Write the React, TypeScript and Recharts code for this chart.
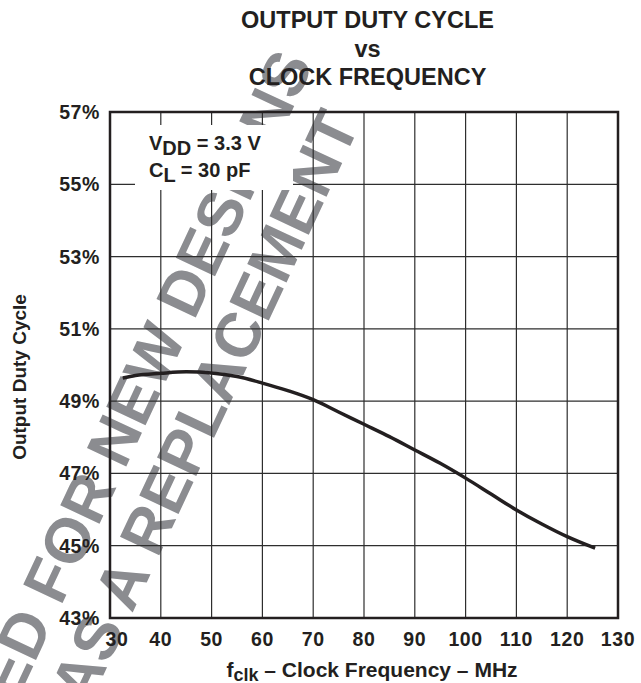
import { LineChart, Line, XAxis, YAxis, CartesianGrid, ReferenceArea } from 'recharts';

// curve (VDD = 3.3 V, CL = 30 pF)
const freqMHz = [32.5, 35, 40, 45, 50, 55, 60, 65, 70, 75, 80, 85, 90, 95, 100, 105, 110, 115, 120, 125.5];
const dutyPct = [49.64, 49.71, 49.77, 49.81, 49.78, 49.68, 49.5, 49.29, 49.04, 48.7, 48.36, 48.02, 47.65, 47.28, 46.87, 46.43, 45.99, 45.6, 45.25, 44.93];

const xTicks = [30, 40, 50, 60, 70, 80, 90, 100, 110, 120, 130];
const yTicks = [43, 45, 47, 49, 51, 53, 55, 57];

const titleLines = ['OUTPUT DUTY CYCLE', 'vs', 'CLOCK FREQUENCY'];
const watermarkLines = ['NOT RECOMMENDED FOR NEW DESIGNS', 'USE CDCVF2510A AS A REPLACEMENT'];

const data = freqMHz.map((f, i) => ({ f, duty: dutyPct[i] }));

const FONT = '"Liberation Sans", Arial, Helvetica, sans-serif';
const INK = '#231f20';
const GRAY = '#8b8c90';

const XTick = ({ x, y, payload }: any) => (
  <text
    x={x + (payload.value === 30 ? 7 : 0)}
    y={y}
    dy="0.71em"
    textAnchor="middle"
    fontFamily={FONT}
    fontWeight="bold"
    fontSize={19.5}
    letterSpacing={0.6}
    fill={INK}
  >
    {payload.value}
  </text>
);

const YTick = ({ x, y, payload }: any) => (
  <text
    x={x}
    y={y}
    dy="0.36em"
    textAnchor="end"
    fontFamily={FONT}
    fontWeight="bold"
    fontSize={19.5}
    letterSpacing={0.6}
    fill={INK}
  >
    {payload.value}%
  </text>
);

export default function App() {
  return (
    <div style={{ position: 'absolute', left: 0, top: 0, width: 641, height: 683, background: '#fff', overflow: 'hidden' }}>
      {/* watermark sits under the grid */}
      <svg width={641} height={683} style={{ position: 'absolute', left: 0, top: 0 }}>
        <g fontFamily={FONT} fontWeight="bold" fontSize={63} fill={GRAY} textAnchor="middle">
          <text transform="translate(24,632) rotate(-65)" dy="0.36em">{watermarkLines[0]}</text>
          <text transform="translate(85,661) rotate(-65)" dy="0.36em">{watermarkLines[1]}</text>
        </g>
      </svg>

      <div style={{ position: 'absolute', left: 0, top: 0 }}>
        <LineChart width={641} height={683} data={data} margin={{ top: 112, right: 23, bottom: 35, left: 50 }}>
          <CartesianGrid stroke="#2e2e2e" strokeWidth={1.2} />
          <XAxis
            dataKey="f"
            type="number"
            domain={[30, 130]}
            ticks={xTicks}
            axisLine={false}
            tickLine={false}
            tickSize={0}
            tickMargin={14}
            height={30}
            tick={<XTick />}
            interval={0}
          />
          <YAxis
            type="number"
            domain={[43, 57]}
            ticks={yTicks}
            axisLine={false}
            tickLine={false}
            tickSize={0}
            tickMargin={10}
            width={60}
            tick={<YTick />}
            interval={0}
          />
          <ReferenceArea x1={30} x2={130} y1={43} y2={57} fill="none" stroke={INK} strokeWidth={2.5} />
          <Line
            type="monotone"
            dataKey="duty"
            stroke={INK}
            strokeWidth={3.5}
            dot={false}
            isAnimationActive={false}
          />
        </LineChart>
      </div>

      {/* condition box, blanks out grid and watermark behind it */}
      <div style={{ position: 'absolute', left: 135, top: 125, width: 158, height: 65, background: '#fff' }} />

      <svg width={641} height={683} style={{ position: 'absolute', left: 0, top: 0, pointerEvents: 'none' }}>
        <g fontFamily={FONT} fontWeight="bold" fill={INK}>
          {titleLines.map((t, i) => (
            <text key={t} x={367.5} y={28.3 + i * 28.4} textAnchor="middle" fontSize={23.5}>
              {t}
            </text>
          ))}

          <text x={149} y={150} fontSize={20}>
            V<tspan dy={5}>DD</tspan>
            <tspan dy={-5}> = 3.3 V</tspan>
          </text>
          <text x={149} y={177.3} fontSize={20}>
            C<tspan dy={4.5}>L</tspan>
            <tspan dy={-4.5}> = 30 pF</tspan>
          </text>

          <text transform="translate(26,377) rotate(-90)" textAnchor="middle" fontSize={19}>
            Output Duty Cycle
          </text>

          <text x={372} y={676.5} textAnchor="middle" fontSize={21}>
            f<tspan dy={4} fontSize={18}>clk</tspan>
            <tspan dy={-4}> – Clock Frequency – MHz</tspan>
          </text>
        </g>
      </svg>
    </div>
  );
}
